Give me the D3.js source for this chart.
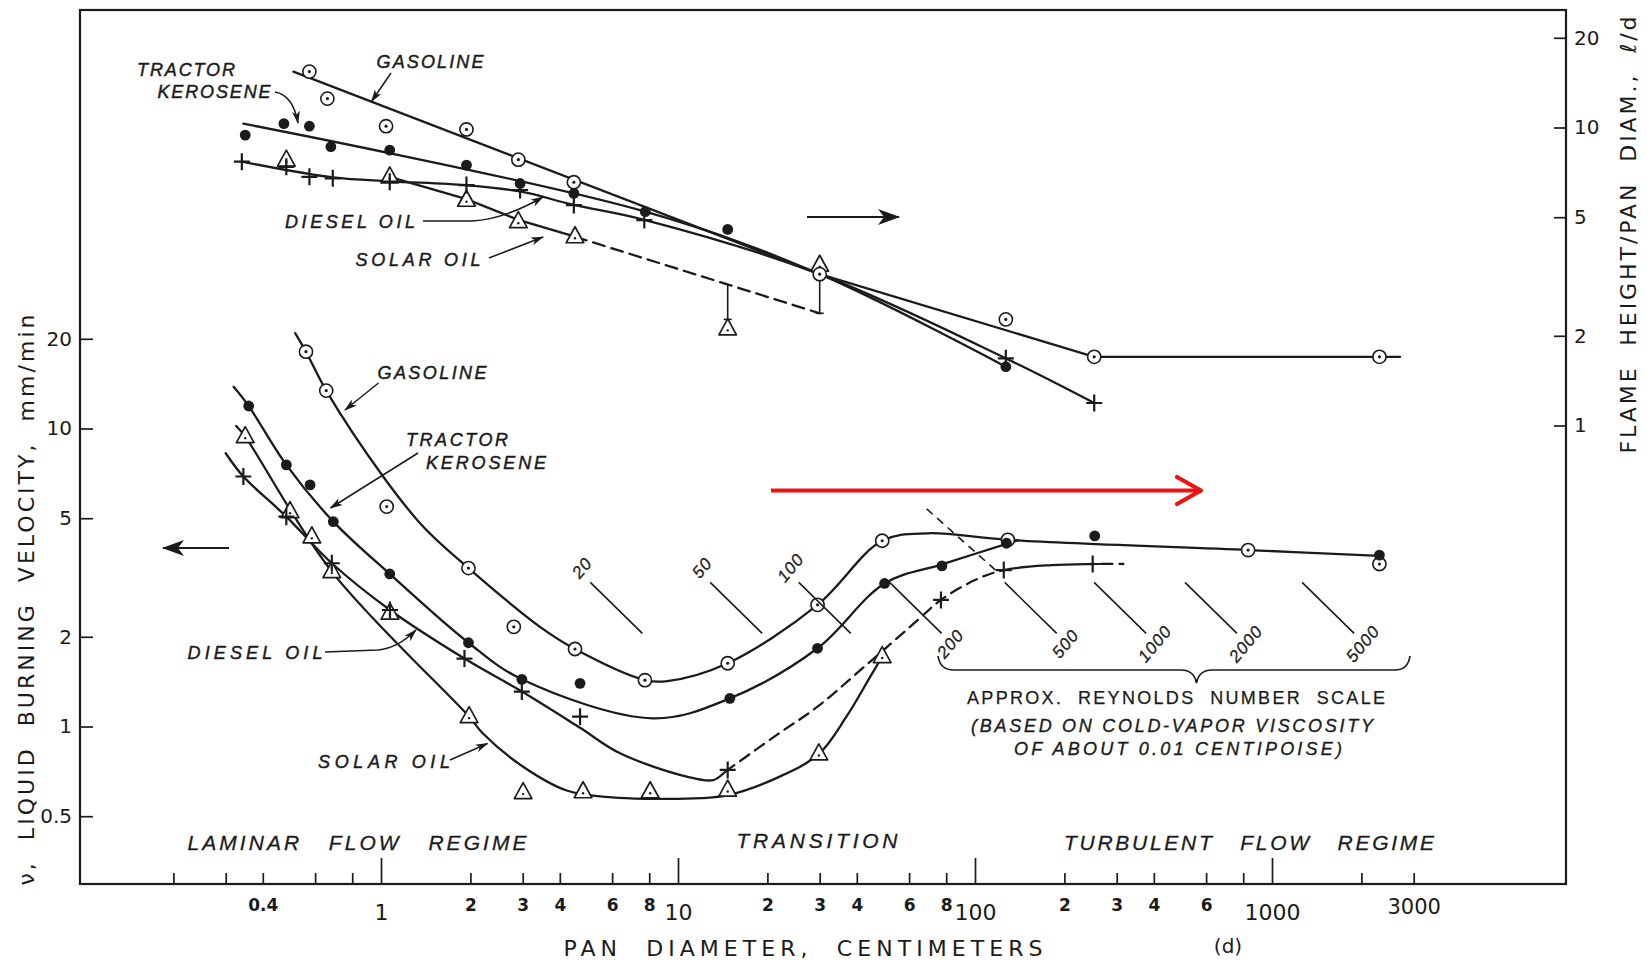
<!DOCTYPE html>
<html>
<head>
<meta charset="utf-8">
<script src="https://cdn.jsdelivr.net/npm/d3@7"></script>
<style>
  html, body { margin: 0; padding: 0; background: #fff; }
  svg { display: block; }
</style>
</head>
<body>
<svg id="chart" width="1651" height="966"></svg>
<script>
// ---------------- data ----------------
// pan diameter axis (cm)
const panDiamTicks  = [0.2,0.3,0.4,0.6,0.8,1,2,3,4,6,8,10,20,30,40,60,80,100,200,300,400,600,800,1000,2000,3000];
const panDiamLabels = ["","","0.4","","","1","2","3","4","6","8","10","2","3","4","6","8","100","2","3","4","6","","1000","","3000"];
const panDiamDecades = [1,10,100,1000];
// left axis: liquid burning velocity (mm/min)
const rateTicks  = [0.5,1,2,5,10,20];
// right axis: flame height / pan diameter
const flameTicks = [1,2,5,10,20];

// flame height / pan diameter  [d (cm), ratio]
const flameGasolinePts  = [[0.574,15.4],[0.66,12.5],[1.04,10.1],[1.94,9.85],[2.9,7.8],[4.46,6.55],[30,3.22],[127,2.27],[252,1.70],[2300,1.70]];
const flameGasolineFit  = [[0.507,15.4],[30,3.22],[252,1.70],[2700,1.70]];
const flameKerosenePts  = [[0.349,9.43],[0.471,10.3],[0.574,10.1],[0.678,8.62],[1.07,8.40],[1.94,7.48],[2.94,6.49],[4.46,6.01],[7.76,5.22],[14.7,4.55],[127,1.575]];
const flameKeroseneFit  = [[0.344,10.3],[7.76,5.22],[30,3.22],[127,1.575]];
const flameDieselPts    = [[0.34,7.68],[0.48,7.38],[0.574,6.83],[0.688,6.75],[1.07,6.58],[1.94,6.41],[2.94,6.17],[4.46,5.49],[7.7,4.89],[127,1.68],[252,1.19]];
const flameDieselFit    = [[0.34,7.68],[0.688,6.8],[1.07,6.6],[1.94,6.4],[2.94,6.1],[4.46,5.5],[7.7,4.9],[30,3.22],[127,1.68],[252,1.19]];
const flameSolarPts     = [[0.48,7.77],[1.07,6.83],[1.94,5.70],[2.9,4.83],[4.5,4.30],[14.7,2.11],[30,3.45]];
const flameSolarFit     = [[1.07,6.83],[1.94,5.75],[2.9,4.9],[4.5,4.30]];
const flameSolarDashed  = [[4.5,4.30],[30,2.38]];
const flameSolarSpread  = [[14.7,2.97,2.27],[30,3.22,2.38]];   // [d, top, bottom]

// liquid burning velocity  [d (cm), mm/min]
const rateGasolinePts = [[0.559,18.1],[0.654,13.4],[1.045,5.47],[1.97,3.40],[2.80,2.16],[4.50,1.82],[7.74,1.43],[14.7,1.63],[29.5,2.56],[48.7,4.2],[129,4.23],[831,3.91],[2300,3.51]];
const rateGasolineFit = [[0.514,20.9],[0.559,18.1],[0.654,13.4],[1.018,6.89],[1.388,4.68],[1.97,3.40],[3.43,2.16],[4.50,1.82],[7.74,1.432],[9.2,1.42],[14.7,1.63],[29.5,2.56],[48.7,4.2],[69.3,4.45],[129,4.23],[831,3.91],[2300,3.74]];
const rateKerosenePts = [[0.3585,11.9],[0.48,7.55],[0.577,6.47],[0.691,4.87],[1.07,3.25],[1.97,1.91],[2.98,1.44],[4.68,1.396],[14.95,1.243],[29.5,1.83],[49.6,3.02],[77.4,3.46],[127.6,4.12],[253,4.36],[2300,3.76]];
const rateKeroseneFit = [[0.319,13.8],[0.3585,11.9],[0.48,7.55],[0.691,4.87],[1.07,3.25],[1.97,1.91],[2.98,1.44],[8.25,1.065],[14.95,1.243],[29.5,1.83],[49.6,3.02],[77.4,3.5],[140,4.22]];
const rateDieselPts   = [[0.344,6.90],[0.48,5.06],[0.683,3.53],[1.072,2.46],[1.91,1.69],[2.98,1.31],[4.68,1.079],[14.7,0.715],[76.8,2.66],[125,3.35],[249,3.51]];
const rateDieselFit   = [[0.30,8.26],[0.344,6.90],[0.48,5.06],[0.683,3.53],[1.072,2.46],[1.91,1.69],[2.98,1.31],[4.68,0.99],[6.38,0.813],[10.7,0.679],[13.15,0.661],[14.7,0.715],[21.1,0.925],[29.5,1.166],[41.2,1.548],[64.3,2.28],[76.8,2.66],[100,3.10],[125,3.35],[181,3.48],[249,3.51],[316,3.51]];
const rateDieselDashedSpans = [[15.5,122],[252,316]];
const rateSolarPts    = [[0.349,9.39],[0.494,5.26],[0.585,4.33],[0.683,3.31],[1.072,2.40],[1.98,1.079],[3.01,0.60],[4.79,0.604],[8.06,0.604],[14.7,0.612],[29.8,0.809],[48.7,1.717]];
const rateSolarFit    = [[0.3255,10.2],[0.349,9.39],[0.683,3.31],[1.98,1.079],[2.2,0.949],[3.01,0.733],[4.22,0.61],[6,0.578],[8,0.572],[12,0.575],[14.7,0.588],[22,0.679],[29.8,0.809],[36.9,1.079],[44.4,1.47],[48.7,1.717]];

// approximate Reynolds number scale (cold-vapor viscosity ~0.01 cP)
const reynoldsNumbers = [20,50,100,200,500,1000,2000,5000];
const reynoldsPanDiam = [6.2,15.7,31.2,63.1,154,308,623,1545];
const reynoldsLevel = 2.5;

// ---------------- drawing ----------------
const INK = "#1b1b1b";
const svg = d3.select("#chart");
const frame = { left: 80, top: 10, right: 1566, bottom: 884 };

const x      = d3.scaleLog().domain([1, 1000]).range([381, 1272]);
const yRate  = d3.scaleLog().domain([1, 10]).range([726.5, 428.5]);
const yFlame = d3.scaleLog().domain([1, 10]).range([425.5, 127.5]);

const defs = svg.append("defs");
defs.append("marker").attr("id", "barb").attr("viewBox", "0 0 13 8")
  .attr("refX", 12).attr("refY", 4).attr("markerWidth", 13).attr("markerHeight", 8)
  .attr("markerUnits", "userSpaceOnUse").attr("orient", "auto")
  .append("path").attr("d", "M0,0 L13,4 L0,8 L3.5,4 Z").attr("fill", INK);
defs.append("marker").attr("id", "bigHead").attr("viewBox", "0 0 22 16")
  .attr("refX", 21).attr("refY", 8).attr("markerWidth", 22).attr("markerHeight", 16)
  .attr("markerUnits", "userSpaceOnUse").attr("orient", "auto")
  .append("path").attr("d", "M0,0 L22,8 L0,16 L6,8 Z").attr("fill", INK);

// plot frame
svg.append("rect")
  .attr("x", frame.left).attr("y", frame.top)
  .attr("width", frame.right - frame.left).attr("height", frame.bottom - frame.top)
  .attr("fill", "none").attr("stroke", INK).attr("stroke-width", 2.2);

// axes
const tickFmt = d => panDiamLabels[panDiamTicks.indexOf(d)];
function styleAxis(g, size, weight) {
  g.select(".domain").remove();
  g.selectAll(".tick line").attr("stroke", INK).attr("stroke-width", 1.7);
  g.selectAll(".tick text").attr("fill", INK)
    .style("font-family", "'DejaVu Sans', sans-serif").style("font-size", size + "px")
    .style("font-weight", weight || "normal");
}
const gxMinor = svg.append("g").attr("transform", `translate(0,${frame.bottom})`)
  .call(d3.axisBottom(x).tickValues(panDiamTicks.filter(t => !panDiamDecades.includes(t)))
    .tickSizeInner(-11).tickSizeOuter(0).tickPadding(15).tickFormat(tickFmt));
styleAxis(gxMinor, 17, "bold");
// the 3000 label is set in the larger, lighter style of the decade labels
gxMinor.selectAll(".tick text").filter(d => d >= 1000)
  .style("font-size", "21px").style("font-weight", "normal");
const gxMajor = svg.append("g").attr("transform", `translate(0,${frame.bottom})`)
  .call(d3.axisBottom(x).tickValues(panDiamDecades)
    .tickSizeInner(-26).tickSizeOuter(0).tickPadding(20).tickFormat(tickFmt));
styleAxis(gxMajor, 22);

const gyL = svg.append("g").attr("transform", `translate(${frame.left},0)`)
  .call(d3.axisLeft(yRate).tickValues(rateTicks).tickSizeInner(-13).tickSizeOuter(0)
    .tickPadding(8).tickFormat(d => String(d)));
styleAxis(gyL, 20);
const gyR = svg.append("g").attr("transform", `translate(${frame.right},0)`)
  .call(d3.axisRight(yFlame).tickValues(flameTicks).tickSizeInner(-12).tickSizeOuter(0)
    .tickPadding(8).tickFormat(d => String(d)));
styleAxis(gyR, 20);

// curve helpers
function fitLine(yS, curveType) {
  return d3.line().x(d => x(d[0])).y(d => yS(d[1])).curve(curveType || d3.curveCatmullRom.alpha(0.5));
}
function drawFit(yS, pts, opts = {}) {
  return svg.append("path")
    .attr("d", fitLine(yS, opts.curve)(pts))
    .attr("fill", "none").attr("stroke", INK)
    .attr("stroke-width", opts.w || 2.3)
    .attr("stroke-linecap", "round")
    .attr("stroke-dasharray", opts.dash || null);
}
// path length at which the path reaches a given screen x
function lengthAtX(node, tx) {
  let lo = 0, hi = node.getTotalLength();
  for (let i = 0; i < 40; i++) {
    const mid = (lo + hi) / 2;
    if (node.getPointAtLength(mid).x < tx) lo = mid; else hi = mid;
  }
  return (lo + hi) / 2;
}
// solid curve with dashed spans given in pan diameter
function drawMixedFit(yS, pts, spans) {
  const path = drawFit(yS, pts);
  const node = path.node();
  const total = node.getTotalLength();
  const dash = 11, gap = 7, arr = [];
  let pos = 0;
  spans.forEach(([a, b]) => {
    const la = lengthAtX(node, x(a)), lb = lengthAtX(node, x(b));
    arr.push(la - pos);
    let p = la;
    while (p + gap + dash <= lb) { arr.push(gap, dash); p += gap + dash; }
    arr.push(gap);
    pos = p + gap;
  });
  arr.push(Math.max(total - pos, 0) + 1, 0);
  path.attr("stroke-dasharray", arr.join(" "));
}

// marker helpers
function drawPoints(yS, pts, kind) {
  const g = svg.append("g");
  const sel = g.selectAll("g").data(pts).join("g")
    .attr("transform", d => `translate(${x(d[0])},${yS(d[1])})`);
  if (kind === "open") {
    sel.append("circle").attr("r", 6.6).attr("fill", "#fff").attr("stroke", INK).attr("stroke-width", 1.6);
    sel.append("circle").attr("r", 1.6).attr("fill", INK);
  } else if (kind === "dot") {
    sel.append("circle").attr("r", 5.4).attr("fill", INK);
  } else if (kind === "cross") {
    sel.append("path").attr("d", "M-8,0H8M0,-8.5V8.5").attr("stroke", INK).attr("stroke-width", 2.2);
  } else if (kind === "tri") {
    sel.append("path").attr("d", "M0,-10 L8.8,6 L-8.8,6 Z").attr("fill", "#fff")
      .attr("stroke", INK).attr("stroke-width", 1.7).attr("stroke-linejoin", "round");
    sel.append("circle").attr("cy", 1.5).attr("r", 1.2).attr("fill", INK);
  }
}

// ----- flame height section -----
drawFit(yFlame, flameGasolineFit, { curve: d3.curveLinear });
drawFit(yFlame, flameKeroseneFit);
drawFit(yFlame, flameDieselFit);
drawFit(yFlame, flameSolarFit, { curve: d3.curveLinear });
drawFit(yFlame, flameSolarDashed, { curve: d3.curveLinear, dash: "12 7" });
svg.append("g").selectAll("g").data(flameSolarSpread).join("g").each(function (d) {
  const g = d3.select(this);
  g.append("line").attr("x1", x(d[0])).attr("x2", x(d[0]))
    .attr("y1", yFlame(d[1])).attr("y2", yFlame(d[2]))
    .attr("stroke", INK).attr("stroke-width", 1.6);
  g.append("line").attr("x1", x(d[0]) - 4).attr("x2", x(d[0]) + 4)
    .attr("y1", yFlame(d[2])).attr("y2", yFlame(d[2]))
    .attr("stroke", INK).attr("stroke-width", 1.6);
});
drawPoints(yFlame, flameSolarPts, "tri");
drawPoints(yFlame, flameDieselPts, "cross");
drawPoints(yFlame, flameGasolinePts, "open");
drawPoints(yFlame, flameKerosenePts, "dot");

// ----- burning velocity section -----
drawFit(yRate, rateGasolineFit);
drawFit(yRate, rateKeroseneFit);
drawMixedFit(yRate, rateDieselFit, rateDieselDashedSpans);
drawFit(yRate, rateSolarFit);
drawPoints(yRate, rateSolarPts, "tri");
drawPoints(yRate, rateDieselPts, "cross");
drawPoints(yRate, rateGasolinePts, "open");
drawPoints(yRate, rateKerosenePts, "dot");

// Reynolds number scale
const rey = svg.append("g");
reynoldsNumbers.forEach((re, i) => {
  const cx = x(reynoldsPanDiam[i]), cy = yRate(reynoldsLevel);
  rey.append("line").attr("x1", cx - 26).attr("y1", cy - 25.5).attr("x2", cx + 26).attr("y2", cy + 25.5)
    .attr("stroke", INK).attr("stroke-width", 1.6);
  const lx = i < 3 ? cx - 34 : cx + 35, ly = i < 3 ? cy - 40 : cy + 36;
  rey.append("text").attr("x", lx).attr("y", ly)
    .attr("transform", `rotate(-50,${lx},${ly})`)
    .attr("text-anchor", "middle").attr("dominant-baseline", "central")
    .attr("fill", INK).attr("stroke", INK).attr("stroke-width", 0.3)
    .style("font-family", "'Liberation Sans', sans-serif").style("font-style", "italic")
    .style("font-size", "17px").style("letter-spacing", "1px")
    .text(re);
  if (re === 500) {
    rey.append("line").attr("x1", cx - 104).attr("y1", cy - 99).attr("x2", cx - 32).attr("y2", cy - 35)
      .attr("stroke", INK).attr("stroke-width", 1.6).attr("stroke-dasharray", "8 6");
  }
});
rey.append("path")
  .attr("d", "M938,656 Q940,670 954,670 L1181,670 Q1194,670 1196.5,683 Q1199,670 1212,670 L1395,670 Q1408,670 1410,656")
  .attr("fill", "none").attr("stroke", INK).attr("stroke-width", 1.7);

// ----- text -----
function txt(s, cx, cy, o = {}) {
  const t = svg.append("text").attr("x", cx).attr("y", cy)
    .attr("text-anchor", "middle").attr("dominant-baseline", "central")
    .attr("fill", INK)
    .style("font-family", o.family || "'Liberation Sans', sans-serif")
    .style("font-size", (o.size || 18) + "px")
    .style("font-style", o.italic ? "italic" : "normal")
    .style("font-weight", o.weight || "normal")
    .style("white-space", "pre")
    .text(s);
  if (o.len) t.attr("textLength", o.len).attr("lengthAdjust", "spacing");
  if (o.rotate) t.attr("transform", `rotate(${o.rotate},${cx},${cy})`);
  if (o.stroke) t.attr("stroke", INK).attr("stroke-width", o.stroke);
  return t;
}
const lab = { italic: true, size: 18, stroke: 0.45 };
const sans = "'DejaVu Sans', sans-serif";

// axis titles
txt("PAN  DIAMETER,  CENTIMETERS", 803, 948, { family: sans, size: 22, len: 479 });
txt("(d)", 1228, 946, { family: sans, size: 20 });
txt("ν,  LIQUID  BURNING  VELOCITY,  mm/min", 26, 600, { family: sans, size: 22, len: 571, rotate: -90 });
txt("FLAME  HEIGHT/PAN  DIAM.,  ℓ/d", 1628, 235, { family: sans, size: 22, len: 437, rotate: -90 });

// regime labels
txt("LAMINAR   FLOW   REGIME", 357, 842, { italic: true, size: 21, len: 339, stroke: 0.3 });
txt("TRANSITION", 817, 840, { italic: true, size: 21, len: 161, stroke: 0.3 });
txt("TURBULENT   FLOW   REGIME", 1249, 842, { italic: true, size: 21, len: 370, stroke: 0.3 });

// series labels, flame section
txt("TRACTOR", 186, 70, { ...lab, len: 98 });
txt("KEROSENE", 214, 92, { ...lab, len: 113 });
txt("GASOLINE", 430, 62, { ...lab, len: 107 });
txt("DIESEL OIL", 350, 222, { ...lab, len: 130 });
txt("SOLAR OIL", 418, 260, { ...lab, len: 125 });
// series labels, burning velocity section
txt("GASOLINE", 432, 373, { ...lab, len: 109 });
txt("TRACTOR", 457, 440, { ...lab, len: 102 });
txt("KEROSENE", 486, 463, { ...lab, len: 120 });
txt("DIESEL OIL", 255, 653, { ...lab, len: 135 });
txt("SOLAR OIL", 384, 762, { ...lab, len: 132 });

// Reynolds scale caption
txt("APPROX.  REYNOLDS  NUMBER  SCALE", 1176, 698, { size: 18, len: 418, stroke: 0.25 });
txt("(BASED ON COLD-VAPOR VISCOSITY", 1172, 726, { italic: true, size: 18, len: 402, stroke: 0.35 });
txt("OF ABOUT 0.01 CENTIPOISE)", 1178, 749, { italic: true, size: 18, len: 328, stroke: 0.35 });

// leader arrows from labels to curves
const leaders = [
  "M391,73 L371.5,101.5",
  "M275,92 Q293,95 298,123",
  "M423,221 L472,221 Q505,219 543,197",
  "M489,258 L543,237",
  "M378.5,383 L345,410",
  "M418,453 L330.5,508",
  "M325,652 L378,650 Q398,648 416,630",
  "M450,760 L487.5,743.5"
];
svg.append("g").selectAll("path").data(leaders).join("path")
  .attr("d", d => d).attr("fill", "none").attr("stroke", INK).attr("stroke-width", 1.5)
  .attr("marker-end", "url(#barb)");

// axis direction arrows
svg.append("line").attr("x1", 807).attr("y1", 217).attr("x2", 899).attr("y2", 217)
  .attr("stroke", INK).attr("stroke-width", 2.2).attr("marker-end", "url(#bigHead)");
svg.append("line").attr("x1", 229).attr("y1", 548).attr("x2", 163).attr("y2", 548)
  .attr("stroke", INK).attr("stroke-width", 2.2).attr("marker-end", "url(#bigHead)");

// red pointer arrow
const RED = "#ee1111";
svg.append("line").attr("x1", 771).attr("y1", 490.5).attr("x2", 1200).attr("y2", 490.5)
  .attr("stroke", RED).attr("stroke-width", 4.2);
svg.append("path").attr("d", "M1177,477 L1201,490.5 L1177,504")
  .attr("fill", "none").attr("stroke", RED).attr("stroke-width", 4.2)
  .attr("stroke-linecap", "round").attr("stroke-linejoin", "round");
</script>
</body>
</html>
